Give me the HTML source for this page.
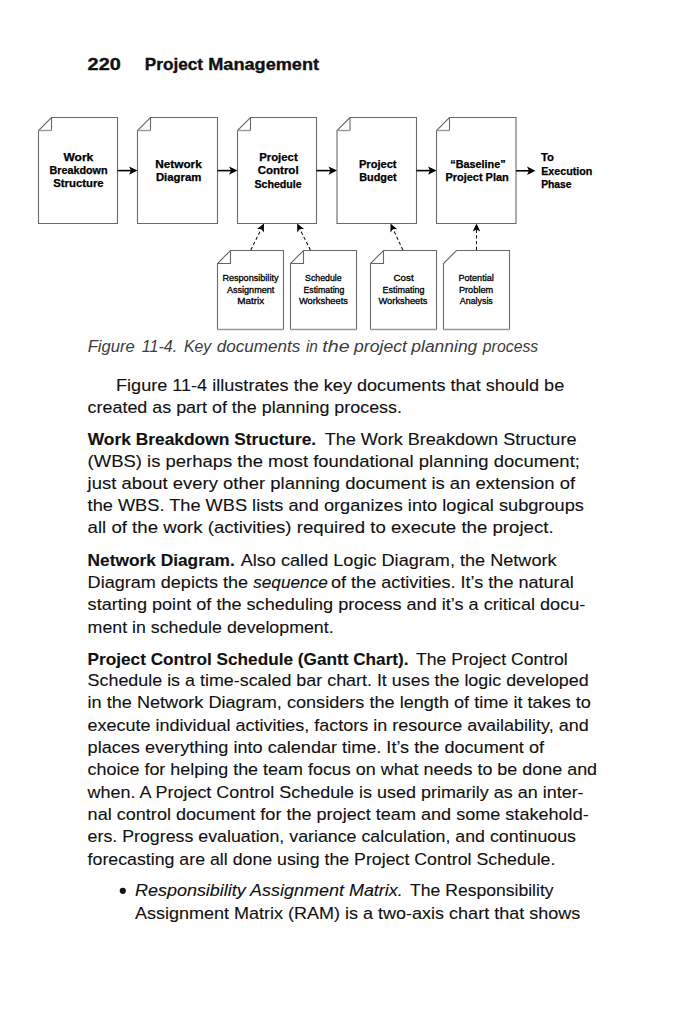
<!DOCTYPE html>
<html><head><meta charset="utf-8"><style>
html,body{margin:0;padding:0;background:#fff;width:682px;height:1024px;overflow:hidden}
svg{display:block}
.hd{font-family:"Liberation Sans",sans-serif;font-weight:bold;font-size:16.5px;fill:#111;stroke:#111;stroke-width:0.35}
.bt{font-family:"Liberation Sans",sans-serif;font-size:16.2px;fill:#111;stroke:#111;stroke-width:0.1}
.cap{font-family:"Liberation Sans",sans-serif;font-style:italic;font-size:15.8px;fill:#3c3c3c}
.bx{fill:#fff;stroke:#6a6a6a;stroke-width:1.1}
.fold{fill:none;stroke:#666;stroke-width:1.1}
.fold2{fill:none;stroke:#999;stroke-width:1.4}
.tb{font-family:"Liberation Sans",sans-serif;font-weight:bold;font-size:10.3px;fill:#000;stroke:#000;stroke-width:0.25}
.bb{font-weight:bold}
.it{font-style:italic}
.sb{font-family:"Liberation Sans",sans-serif;font-size:8.9px;fill:#000;stroke:#000;stroke-width:0.3}
</style></head><body>
<svg width="682" height="1024" viewBox="0 0 682 1024">

<text class="hd" x="87.6" y="69.8" textLength="33.1" lengthAdjust="spacingAndGlyphs">220</text>
<text class="hd" x="144.8" y="69.8" textLength="58.3" lengthAdjust="spacingAndGlyphs">Project</text>
<text class="hd" x="208.2" y="69.8" textLength="110.9" lengthAdjust="spacingAndGlyphs">Management</text>
<path class="bx" d="M51.5,117.5 L117.5,117.5 L117.5,223.5 L38.5,223.5 L38.5,130.5 Z"/><path class="fold" d="M51.5,130.5 L51.5,117.5"/><path class="fold2" d="M38.5,130.5 L51.5,130.5"/>
<path class="bx" d="M150.5,117.5 L217.5,117.5 L217.5,223.5 L137.5,223.5 L137.5,130.5 Z"/><path class="fold" d="M150.5,130.5 L150.5,117.5"/><path class="fold2" d="M137.5,130.5 L150.5,130.5"/>
<path class="bx" d="M250.5,117.5 L316.5,117.5 L316.5,223.5 L237.5,223.5 L237.5,130.5 Z"/><path class="fold" d="M250.5,130.5 L250.5,117.5"/><path class="fold2" d="M237.5,130.5 L250.5,130.5"/>
<path class="bx" d="M350,117.5 L416.5,117.5 L416.5,223.5 L337,223.5 L337,130.5 Z"/><path class="fold" d="M350,130.5 L350,117.5"/><path class="fold2" d="M337,130.5 L350,130.5"/>
<path class="bx" d="M449.5,117.5 L516,117.5 L516,223.5 L436.5,223.5 L436.5,130.5 Z"/><path class="fold" d="M449.5,130.5 L449.5,117.5"/><path class="fold2" d="M436.5,130.5 L449.5,130.5"/>
<line x1="117.5" y1="170.6" x2="131.5" y2="170.6" stroke="#000" stroke-width="1.6"/><path d="M137.5,170.6 L129.0,166.4 L131.0,170.6 L129.0,174.79999999999998 Z" fill="#000"/>
<line x1="217.5" y1="170.6" x2="231.5" y2="170.6" stroke="#000" stroke-width="1.6"/><path d="M237.5,170.6 L229.0,166.4 L231.0,170.6 L229.0,174.79999999999998 Z" fill="#000"/>
<line x1="316.5" y1="170.6" x2="331" y2="170.6" stroke="#000" stroke-width="1.6"/><path d="M337,170.6 L328.5,166.4 L330.5,170.6 L328.5,174.79999999999998 Z" fill="#000"/>
<line x1="416.5" y1="170.6" x2="430.5" y2="170.6" stroke="#000" stroke-width="1.6"/><path d="M436.5,170.6 L428.0,166.4 L430.0,170.6 L428.0,174.79999999999998 Z" fill="#000"/>
<line x1="516" y1="170.8" x2="529.5" y2="170.8" stroke="#000" stroke-width="1.6"/><path d="M535.5,170.8 L527.0,166.60000000000002 L529.0,170.8 L527.0,175.0 Z" fill="#000"/>
<text class="tb" x="63.5" y="160.6" textLength="29.8" lengthAdjust="spacingAndGlyphs">Work</text><text class="tb" x="49.5" y="173.9" textLength="58.1" lengthAdjust="spacingAndGlyphs">Breakdown</text><text class="tb" x="53.3" y="187.2" textLength="50.3" lengthAdjust="spacingAndGlyphs">Structure</text><text class="tb" x="155.3" y="167.6" textLength="46.4" lengthAdjust="spacingAndGlyphs">Network</text><text class="tb" x="155.9" y="180.7" textLength="45.4" lengthAdjust="spacingAndGlyphs">Diagram</text><text class="tb" x="259.2" y="160.8" textLength="38.5" lengthAdjust="spacingAndGlyphs">Project</text><text class="tb" x="257.7" y="174.3" textLength="40.9" lengthAdjust="spacingAndGlyphs">Control</text><text class="tb" x="254.4" y="187.5" textLength="47.3" lengthAdjust="spacingAndGlyphs">Schedule</text><text class="tb" x="358.9" y="167.6" textLength="37.7" lengthAdjust="spacingAndGlyphs">Project</text><text class="tb" x="359.2" y="180.7" textLength="37.4" lengthAdjust="spacingAndGlyphs">Budget</text><text class="tb" x="450.3" y="167.6" textLength="55.3" lengthAdjust="spacingAndGlyphs">“Baseline”</text><text class="tb" x="445.4" y="180.7" textLength="63.4" lengthAdjust="spacingAndGlyphs">Project Plan</text><text class="tb" x="541.0" y="160.8" textLength="13.0" lengthAdjust="spacingAndGlyphs">To</text><text class="tb" x="541.2" y="174.7" textLength="51.2" lengthAdjust="spacingAndGlyphs">Execution</text><text class="tb" x="541.2" y="187.7" textLength="30.4" lengthAdjust="spacingAndGlyphs">Phase</text>
<path d="M230.5,250.5 L283.5,250.5 L283.5,329.5 L217.5,329.5 L217.5,263.5 Z" fill="#fff" stroke="none"/><path class="bx" fill="none" d="M217.5,329.5 L217.5,263.5 L230.5,250.5 L283.5,250.5 L283.5,329.5"/><path d="M217.5,329.5 L283.5,329.5" stroke="#999" stroke-width="1.6" fill="none"/><path class="fold" d="M217.5,263.5 L230.5,263.5 L230.5,250.5"/>
<path d="M303.5,250.5 L356.5,250.5 L356.5,329.5 L290.5,329.5 L290.5,263.5 Z" fill="#fff" stroke="none"/><path class="bx" fill="none" d="M290.5,329.5 L290.5,263.5 L303.5,250.5 L356.5,250.5 L356.5,329.5"/><path d="M290.5,329.5 L356.5,329.5" stroke="#999" stroke-width="1.6" fill="none"/><path class="fold" d="M290.5,263.5 L303.5,263.5 L303.5,250.5"/>
<path d="M383.5,250.5 L436.5,250.5 L436.5,329.5 L370.5,329.5 L370.5,263.5 Z" fill="#fff" stroke="none"/><path class="bx" fill="none" d="M370.5,329.5 L370.5,263.5 L383.5,250.5 L436.5,250.5 L436.5,329.5"/><path d="M370.5,329.5 L436.5,329.5" stroke="#999" stroke-width="1.6" fill="none"/><path class="fold" d="M370.5,263.5 L383.5,263.5 L383.5,250.5"/>
<path d="M456.5,250.5 L509.5,250.5 L509.5,329.5 L443.5,329.5 L443.5,263.5 Z" fill="#fff" stroke="none"/><path class="bx" fill="none" d="M443.5,329.5 L443.5,263.5 L456.5,250.5 L509.5,250.5 L509.5,329.5"/><path d="M443.5,329.5 L509.5,329.5" stroke="#999" stroke-width="1.6" fill="none"/>
<text class="sb" x="222.4" y="280.8" textLength="56.1" lengthAdjust="spacingAndGlyphs">Responsibility</text><text class="sb" x="226.9" y="292.6" textLength="47.5" lengthAdjust="spacingAndGlyphs">Assignment</text><text class="sb" x="237.2" y="304.4" textLength="27.0" lengthAdjust="spacingAndGlyphs">Matrix</text><text class="sb" x="305.1" y="280.8" textLength="36.5" lengthAdjust="spacingAndGlyphs">Schedule</text><text class="sb" x="303.4" y="292.6" textLength="41.0" lengthAdjust="spacingAndGlyphs">Estimating</text><text class="sb" x="298.9" y="304.4" textLength="49.1" lengthAdjust="spacingAndGlyphs">Worksheets</text><text class="sb" x="393.6" y="280.8" textLength="20.0" lengthAdjust="spacingAndGlyphs">Cost</text><text class="sb" x="382.6" y="292.6" textLength="41.8" lengthAdjust="spacingAndGlyphs">Estimating</text><text class="sb" x="378.5" y="304.4" textLength="49.0" lengthAdjust="spacingAndGlyphs">Worksheets</text><text class="sb" x="458.4" y="280.8" textLength="35.4" lengthAdjust="spacingAndGlyphs">Potential</text><text class="sb" x="458.9" y="292.6" textLength="34.4" lengthAdjust="spacingAndGlyphs">Problem</text><text class="sb" x="459.8" y="304.4" textLength="33.0" lengthAdjust="spacingAndGlyphs">Analysis</text>
<line x1="250.80" y1="250.00" x2="261.32" y2="228.97" stroke="#111" stroke-width="1.05" stroke-dasharray="3.3 2.4"/><path d="M264.00,223.60 L263.82,232.45 L261.32,228.97 L257.02,229.06 Z" fill="#000"/>
<line x1="310.40" y1="250.00" x2="299.80" y2="228.96" stroke="#111" stroke-width="1.05" stroke-dasharray="3.3 2.4"/><path d="M297.10,223.60 L304.09,229.03 L299.80,228.96 L297.31,232.45 Z" fill="#000"/>
<line x1="402.90" y1="250.00" x2="393.05" y2="229.03" stroke="#111" stroke-width="1.05" stroke-dasharray="3.3 2.4"/><path d="M390.50,223.60 L397.34,229.23 L393.05,229.03 L390.46,232.46 Z" fill="#000"/>
<line x1="476.50" y1="250.00" x2="476.50" y2="229.60" stroke="#111" stroke-width="1.05" stroke-dasharray="3.3 2.4"/><path d="M476.50,223.60 L480.30,231.60 L476.50,229.60 L472.70,231.60 Z" fill="#000"/>
<text class="cap" x="87.7" y="351.6" textLength="47.2" lengthAdjust="spacingAndGlyphs">Figure</text>
<text class="cap" x="141.7" y="351.6" textLength="35.5" lengthAdjust="spacingAndGlyphs">11-4.</text>
<text class="cap" x="183.9" y="351.6" textLength="27.3" lengthAdjust="spacingAndGlyphs">Key</text>
<text class="cap" x="216.7" y="351.6" textLength="83.6" lengthAdjust="spacingAndGlyphs">documents</text>
<text class="cap" x="305.9" y="351.6" textLength="12.0" lengthAdjust="spacingAndGlyphs">in</text>
<text class="cap" x="322.3" y="351.6" textLength="27.3" lengthAdjust="spacingAndGlyphs">the</text>
<text class="cap" x="354.0" y="351.6" textLength="52.9" lengthAdjust="spacingAndGlyphs">project</text>
<text class="cap" x="411.3" y="351.6" textLength="66.0" lengthAdjust="spacingAndGlyphs">planning</text>
<text class="cap" x="482.8" y="351.6" textLength="55.5" lengthAdjust="spacingAndGlyphs">process</text>
<text class="bt" x="116.0" y="390.8" textLength="448.2" lengthAdjust="spacingAndGlyphs">Figure 11-4 illustrates the key documents that should be</text>
<text class="bt" x="87.6" y="412.9" textLength="314.4" lengthAdjust="spacingAndGlyphs">created as part of the planning process.</text>
<text class="bt bb" x="87.8" y="444.6" textLength="228.4" lengthAdjust="spacingAndGlyphs">Work Breakdown Structure.</text>
<text class="bt" x="324.7" y="444.6" textLength="251.8" lengthAdjust="spacingAndGlyphs">The Work Breakdown Structure</text>
<text class="bt" x="87.6" y="466.7" textLength="492.3" lengthAdjust="spacingAndGlyphs">(WBS) is perhaps the most foundational planning document;</text>
<text class="bt" x="87.6" y="488.8" textLength="487.5" lengthAdjust="spacingAndGlyphs">just about every other planning document is an extension of</text>
<text class="bt" x="87.6" y="510.9" textLength="496.3" lengthAdjust="spacingAndGlyphs">the WBS. The WBS lists and organizes into logical subgroups</text>
<text class="bt" x="87.6" y="533.0" textLength="466.0" lengthAdjust="spacingAndGlyphs">all of the work (activities) required to execute the project.</text>
<text class="bt bb" x="87.6" y="565.5" textLength="147.1" lengthAdjust="spacingAndGlyphs">Network Diagram.</text>
<text class="bt" x="240.7" y="565.5" textLength="315.9" lengthAdjust="spacingAndGlyphs">Also called Logic Diagram, the Network</text>
<text class="bt" x="87.6" y="587.5" textLength="160.5" lengthAdjust="spacingAndGlyphs">Diagram depicts the</text>
<text class="bt it" x="253.2" y="587.5" textLength="74.7" lengthAdjust="spacingAndGlyphs">sequence</text>
<text class="bt" x="331.0" y="587.5" textLength="242.7" lengthAdjust="spacingAndGlyphs">of the activities. It’s the natural</text>
<text class="bt" x="87.6" y="610.1" textLength="497.7" lengthAdjust="spacingAndGlyphs">starting point of the scheduling process and it’s a critical docu-</text>
<text class="bt" x="87.6" y="632.6" textLength="246.0" lengthAdjust="spacingAndGlyphs">ment in schedule development.</text>
<text class="bt bb" x="87.6" y="664.5" textLength="321.0" lengthAdjust="spacingAndGlyphs">Project Control Schedule (Gantt Chart).</text>
<text class="bt" x="416.0" y="664.5" textLength="151.7" lengthAdjust="spacingAndGlyphs">The Project Control</text>
<text class="bt" x="87.6" y="686.0" textLength="501.1" lengthAdjust="spacingAndGlyphs">Schedule is a time-scaled bar chart. It uses the logic developed</text>
<text class="bt" x="87.6" y="708.0" textLength="503.3" lengthAdjust="spacingAndGlyphs">in the Network Diagram, considers the length of time it takes to</text>
<text class="bt" x="87.6" y="730.9" textLength="501.1" lengthAdjust="spacingAndGlyphs">execute individual activities, factors in resource availability, and</text>
<text class="bt" x="87.6" y="753.2" textLength="456.4" lengthAdjust="spacingAndGlyphs">places everything into calendar time. It’s the document of</text>
<text class="bt" x="87.6" y="774.8" textLength="509.5" lengthAdjust="spacingAndGlyphs">choice for helping the team focus on what needs to be done and</text>
<text class="bt" x="87.6" y="797.9" textLength="496.0" lengthAdjust="spacingAndGlyphs">when. A Project Control Schedule is used primarily as an inter-</text>
<text class="bt" x="87.6" y="820.3" textLength="501.1" lengthAdjust="spacingAndGlyphs">nal control document for the project team and some stakehold-</text>
<text class="bt" x="87.6" y="842.3" textLength="488.4" lengthAdjust="spacingAndGlyphs">ers. Progress evaluation, variance calculation, and continuous</text>
<text class="bt" x="87.6" y="865.0" textLength="467.8" lengthAdjust="spacingAndGlyphs">forecasting are all done using the Project Control Schedule.</text>
<text class="bt it" x="135.0" y="896.4" textLength="267.8" lengthAdjust="spacingAndGlyphs">Responsibility Assignment Matrix.</text>
<text class="bt" x="410.1" y="896.4" textLength="143.5" lengthAdjust="spacingAndGlyphs">The Responsibility</text>
<text class="bt" x="135.0" y="918.9" textLength="445.2" lengthAdjust="spacingAndGlyphs">Assignment Matrix (RAM) is a two-axis chart that shows</text>
<circle cx="122.8" cy="890.8" r="3.1" fill="#111"/>
</svg></body></html>
